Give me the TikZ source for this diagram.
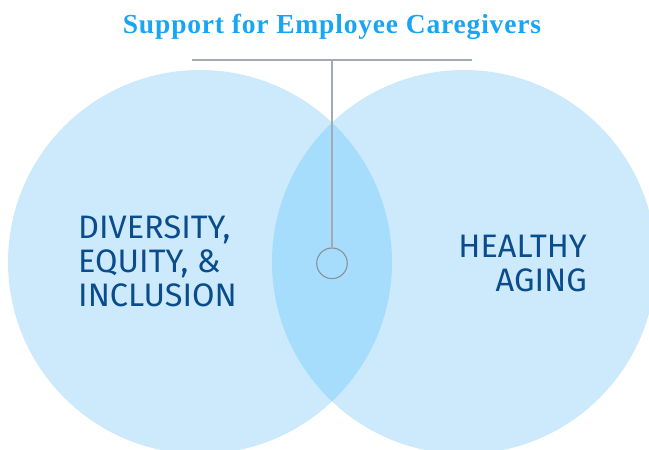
\documentclass[tikz,border=0pt]{standalone}
\usepackage{fontspec}
\setmainfont{Liberation Serif}
\newfontfamily\titlefont[LetterSpace=3]{Liberation Serif}
\newfontfamily\labelfont{Fira Sans}
\usepackage{tikz}
\usetikzlibrary{positioning}

\definecolor{ringfill}{HTML}{CDEAFC}
\definecolor{lensfill}{HTML}{A6DDFC}
\definecolor{labelblue}{HTML}{0A4C8C}
\definecolor{titleblue}{HTML}{18A5F4}
\definecolor{wiregray}{HTML}{A3AAB2}

\begin{document}
\begin{tikzpicture}[
    x=1pt, y=1pt,
    ring/.style={circle, fill=ringfill, minimum size=384pt, inner sep=0pt},
    topic/.style={font=\labelfont\fontsize{32.5}{34}\selectfont, text=labelblue, inner sep=0pt},
    wire/.style={draw=wiregray, line width=1.4pt}
]
\useasboundingbox (0,0) rectangle (649,450);

% the two circles and their overlap
\node[ring] (dei) at (200,188) {};
\node[ring] (aging) at (464,188) {};
\begin{scope}
    \clip (dei.center) circle (192);
    \fill[lensfill] (aging.center) circle (192);
\end{scope}

% labels
\node[topic, anchor=north west, align=left] (deitext) at (78,234.3) {DIVERSITY,\\EQUITY, \&\\INCLUSION};
\node[topic, anchor=north east, align=right] (agingtext) at (587,215) {HEALTHY\\AGING};

% title with its bar
\node[font=\titlefont\bfseries\fontsize{27.5}{30}\selectfont, text=titleblue, anchor=base] (title) at (332,416.7) {Support for Employee Caregivers};
\coordinate (barleft) at (192,390);
\coordinate (barright) at (472,390);
\coordinate (barmid) at (332,390);
\node[circle, draw=wiregray!85!black, line width=1.1pt, minimum size=30.6pt, inner sep=0pt] (hub) at (332,186.7) {};
\draw[wire] (barleft) -- (barright);
\draw[wire] (barmid) -- (hub.north);

\end{tikzpicture}
\end{document}
